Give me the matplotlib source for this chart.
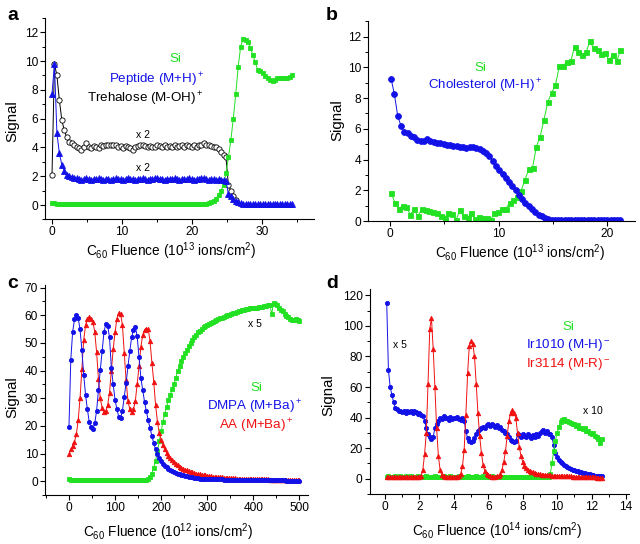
import numpy as np
import matplotlib
matplotlib.use("Agg")
import matplotlib.pyplot as plt
from matplotlib.ticker import MultipleLocator

plt.rcParams['font.family'] = ['Liberation Sans', 'DejaVu Sans']
plt.rcParams['mathtext.default'] = 'regular'

GREEN = '#22e022'
BLUE = '#1212e8'
RED = '#f01010'

# ---------------- panel a (fluence step 0.35 x 10^13) ----------------
a_step = 0.35
a_si = [0.15, 0.12, 0.1, 0.1, 0.09, 0.1, 0.08, 0.09,
        0.1, 0.08, 0.09, 0.08, 0.1, 0.09, 0.08, 0.08,
        0.09, 0.08, 0.08, 0.09, 0.08, 0.08, 0.09, 0.08,
        0.08, 0.09, 0.08, 0.08, 0.08, 0.09, 0.08, 0.08,
        0.09, 0.08, 0.08, 0.08, 0.09, 0.08, 0.08, 0.09,
        0.08, 0.08, 0.08, 0.09, 0.08, 0.08, 0.09, 0.08,
        0.08, 0.09, 0.08, 0.08, 0.09, 0.08, 0.08, 0.08,
        0.09, 0.08, 0.08, 0.09, 0.08, 0.09, 0.09, 0.1,
        0.12, 0.2, 0.3, 0.45, 0.7, 1.0, 1.4, 2.2, 3.3, 4.5,
        6.0, 7.7, 9.6, 11.0, 11.55, 11.45, 11.3, 10.9, 10.4, 9.9,
        9.35, 9.3, 9.2, 8.95, 8.8, 8.65, 8.6, 8.65, 8.85, 8.8,
        8.8, 8.85, 8.8, 8.9, 9.0]
a_peptide = [7.7, 9.8, 5.0, 3.6, 2.8, 2.35, 2.1, 2.0, 1.95, 1.9,
             1.85, 1.8, 1.75, 1.8, 1.85, 1.8, 1.75, 1.8, 1.8, 1.85,
             1.8, 1.75, 1.8, 1.8, 1.75, 1.8, 1.85, 1.8, 1.8, 1.75,
             1.8, 1.85, 1.8, 1.8, 1.75, 1.8, 1.8, 1.85, 1.8, 1.75,
             1.8, 1.8, 1.85, 1.9, 1.8, 1.8, 1.75, 1.8, 1.8, 1.8,
             1.85, 1.8, 1.75, 1.8, 1.8, 1.8, 1.85, 1.8, 1.75, 1.8,
             1.8, 1.85, 1.9, 1.8, 1.75, 1.8, 1.8, 1.75, 1.8, 1.75,
             1.75, 1.7,
             0.75, 0.6, 0.45, 0.3, 0.2, 0.12, 0.08, 0.05, 0.05, 0.05,
             0.05, 0.05, 0.05, 0.05, 0.05, 0.05, 0.05, 0.05, 0.05, 0.05,
             0.05, 0.05, 0.05, 0.05, 0.05, 0.05, 0.05]
a_trehalose = [2.1, 9.8, 9.0, 7.3, 5.9, 5.2, 4.7, 4.35, 4.3, 4.2,
               4.05, 3.95, 3.85, 4.0, 4.3, 4.05, 3.95, 4.1, 4.0, 3.95,
               4.15, 4.1, 4.15, 4.2, 4.15, 4.2, 4.15, 4.0, 4.1, 3.95,
               4.1, 4.0, 3.95, 3.8, 4.0, 4.1, 4.2, 4.15, 4.1, 4.0,
               4.1, 4.0, 4.05, 4.2, 4.1, 4.0, 4.2, 4.05, 4.1, 4.0,
               4.2, 4.05, 4.1, 4.2, 4.05, 4.15, 4.1, 4.05, 4.15, 4.05,
               4.15, 4.2, 4.3, 4.2, 4.15, 4.1, 4.05, 4.0, 3.9, 3.7,
               3.45, 3.3, 1.4, 1.0, 0.65, 0.35]

# ---------------- panel b ----------------
b_chol = [9.25, 8.25, 6.85, 6.2, 5.8, 5.7, 5.55, 5.45, 5.3, 5.2,
          5.2, 5.35, 5.22, 5.15, 5.1, 5.05, 5.0, 4.97, 4.93, 4.9,
          4.85, 4.82, 4.8, 4.76, 4.8, 4.8, 4.75, 4.7, 4.55, 4.4,
          4.2, 3.9, 3.55, 3.3, 3.05, 2.8, 2.55, 2.28, 2.0, 1.72,
          1.45, 1.18, 0.95, 0.75, 0.57, 0.42, 0.3, 0.2, 0.13, 0.09,
          0.06, 0.05, 0.04, 0.04, 0.04, 0.04, 0.04, 0.04, 0.04, 0.04,
          0.04, 0.04, 0.04, 0.04, 0.04, 0.04, 0.04, 0.04, 0.04, 0.04,
          0.04]
b_si = [1.8, 1.2, 0.8, 1.0, 0.9, 0.42, 0.75, 0.32, 0.78, 0.72,
        0.67, 0.6, 0.55, 0.3, 0.22, 0.55, 0.48, 0.08, 0.7, 0.3,
        0.2, 0.55, 0.15, 0.25, 0.2, 0.22, 0.05, 0.52, 0.58, 0.8,
        0.78, 1.2, 1.35, 1.55, 1.97, 2.66, 3.36, 3.47, 4.84, 5.5,
        6.6, 7.76, 8.35, 8.85, 10.1, 10.1, 10.37, 10.4, 11.35, 11.0,
        10.8, 11.0, 11.7, 11.25, 11.1, 10.85, 10.95, 10.45, 10.8, 10.4,
        11.1]
b_start, b_end = 0.1, 21.2

# ---------------- panel c (fluence step 4 x 10^12) ----------------
c_step = 4
c_dmpa = [19.5, 44, 54, 58.5, 60.2, 59, 55, 47.5, 38.5, 31.2,
          26, 21.5, 19.5, 18.8, 21, 25.5, 33, 40.3, 47, 54,
          56.9, 56.3, 52, 41, 35, 29.5, 26, 23.4, 22.8, 25.5,
          30.5, 35.5, 41.5, 47, 52, 54.7, 55.9, 52.5, 45, 37.5,
          33, 28.8, 25.3, 22, 19.3, 16.3, 13.8, 11.5, 9.7, 8.3,
          7.3, 6.3, 5.6, 5.0, 4.5, 4.1, 3.7, 3.3, 3.0, 2.7,
          2.5, 2.3, 2.1, 1.9, 1.8, 1.6, 1.5, 1.4, 1.3, 1.2,
          1.1, 1.0, 1.0, 0.9, 0.9, 0.85, 0.8, 0.8, 0.75, 0.75,
          0.7, 0.7, 0.65, 0.65, 0.6, 0.6, 0.6, 0.55, 0.55, 0.55,
          0.5, 0.5, 0.5, 0.5, 0.45, 0.45, 0.45, 0.45, 0.4, 0.4,
          0.4, 0.4, 0.4, 0.35, 0.35, 0.35, 0.35, 0.35, 0.35, 0.3,
          0.3, 0.3, 0.3, 0.3, 0.3, 0.3, 0.3, 0.3, 0.25, 0.25,
          0.25, 0.25, 0.25, 0.25, 0.25, 0.25]
c_aa = [9.8, 11.5, 12.8, 14.3, 17, 22, 30, 40.5, 51, 56.5,
        58.5, 59.5, 58.8, 57.6, 54, 46.6, 37, 30, 26.5, 25.2,
        25.3, 27.5, 32, 40, 47.8, 53.8, 58.8, 60.8, 60.5, 56.5,
        46.5, 36.5, 29, 26, 25.2, 26, 29, 35, 41.5, 48.5,
        52.8, 54.8, 55, 55, 50.6, 42.8, 36, 27.5, 21.5, 17.5,
        15, 13, 11.5, 10.2, 9.2, 8.3, 7.6, 6.9, 6.3, 5.8,
        5.3, 4.9, 4.5, 4.2, 3.9, 3.6, 3.4, 3.2, 3.0, 2.8,
        2.6, 2.5, 2.3, 2.2, 2.1, 2.0, 1.9, 1.8, 1.7, 1.6,
        1.55, 1.5, 1.45, 1.4, 1.35, 1.3, 1.25, 1.2, 1.15, 1.1,
        1.05, 1.0, 1.0, 0.95, 0.95, 0.9, 0.9, 0.85, 0.85, 0.8,
        0.8, 0.75, 0.75, 0.7, 0.7, 0.7, 0.65, 0.65, 0.65, 0.6,
        0.6, 0.6, 0.55, 0.55, 0.55, 0.5, 0.5, 0.5, 0.5, 0.45,
        0.45, 0.45, 0.45, 0.4, 0.4, 0.4]
c_si = [0.7, 0.6, 0.55, 0.5, 0.5, 0.45, 0.45, 0.4, 0.4, 0.4,
        0.4, 0.35, 0.35, 0.35, 0.35, 0.35, 0.3, 0.3, 0.3, 0.3,
        0.3, 0.3, 0.3, 0.3, 0.3, 0.3, 0.3, 0.3, 0.35, 0.35,
        0.35, 0.35, 0.35, 0.4, 0.4, 0.4, 0.4, 0.45, 0.45, 0.5,
        0.5, 0.55, 0.6,
        0.8, 1.5, 2.8, 4.8, 7.5, 10.8, 14.5, 18, 21.5, 24.5,
        27, 29.3, 31.3, 33.2, 35.2, 37.5, 40, 41.5, 43.5, 45,
        46.3, 47.5, 48.8, 50, 51, 52, 53, 53.8, 54.5, 55.2,
        55.8, 56.2, 56.6, 57, 57.3, 57.6, 58, 58.3, 58.6, 58.9,
        59.2, 59.5, 59.8, 60, 60.2, 60.4, 60.7, 61, 61.2, 61.4,
        61.6, 61.8, 62, 62.2, 62.3, 62.5, 62.6, 62.7, 62.5, 62.8,
        62.9, 63, 63.1, 63.3, 63.5, 63.6, 63.8, 60.5, 64.4, 64.2,
        63.6, 62.8, 62, 61.4, 60.6, 59.8, 59.3, 58.6, 58.2, 58.3,
        58.8, 58.4, 58]

# ---------------- panel d (fluence 0.1 .. 12.6 x 10^14, step 0.1) ----------------
d_start, d_step = 0.1, 0.1
d_ir1010 = [115, 71, 60, 55, 50, 46.5, 45.5, 44, 44.5, 43.5,
            44, 43, 44.5, 43.5, 44, 43, 44, 43.5, 42.5, 43,
            42, 41, 38, 33, 29, 27, 26, 27.5, 33, 36,
            38, 40, 39, 41, 39.5, 40, 38.5, 40.5, 39, 40,
            39.5, 40.5, 39, 38.5, 40, 38, 31, 26.5, 25, 24,
            25, 26.5, 29, 31, 32.5, 33.5, 34, 33, 35, 36,
            34.5, 36, 35, 34, 35, 33.5, 34, 32, 31, 30,
            29, 27, 25.5, 24.5, 24, 24.5, 29, 28.5, 27, 29,
            28, 27, 29, 28, 26.5, 28.5, 27.5, 29.5, 28, 30,
            31, 32, 30, 31, 29.5, 29, 27, 22, 17, 14,
            12, 11, 10, 9.3, 8.6, 7.9, 7, 6.5, 6, 5.6,
            5.2, 4.8, 4.4, 4.1, 3.8, 3.5, 3.3, 3.0, 2.8, 2.5,
            2.3, 2.1, 2.0, 1.8, 1.6, 1.5]
d_ir3114 = [1.0, 1.1, 0.9, 1.0, 1.2, 0.9, 1.0, 1.1, 0.9, 1.0,
            1.0, 1.1, 0.9, 1.0, 1.0, 0.9, 1.1, 1.0, 1.2, 1.4,
            2, 6, 16, 30, 62, 98, 105, 85, 60, 33,
            15, 6, 2.5, 1.5,
            1.1, 1.0, 0.9, 1.0, 1.1, 0.9, 1.0, 1.2, 1.6,
            3, 8, 19, 42, 69, 87, 90, 88, 80, 62,
            43, 28, 17, 9, 5, 3, 2.2,
            1.5, 1.4, 1.3, 1.4, 1.5, 1.8,
            3, 6, 11, 18, 28, 38, 43, 45, 43, 40,
            30, 21, 15, 11, 8.5, 7, 6, 5.2, 4.6, 4.1,
            3.7, 3.4, 3.1, 2.9,
            2.7, 2.6, 2.5, 2.4, 2.3, 2.2, 2.1, 2.0, 1.95, 1.9,
            1.85, 1.8, 1.75, 1.7, 1.65, 1.6, 1.55, 1.5, 1.45, 1.4,
            1.35, 1.3, 1.25, 1.2, 1.15, 1.1, 1.05, 1.0, 0.95, 0.9,
            0.85, 0.8, 0.75, 0.7, 0.65, 0.6]
d_si = [1.2, 1.5, 1.3, 1.1, 1.4, 1.6, 1.2, 1.3, 1.5, 1.2,
        1.4, 1.7, 1.3, 1.2, 1.5, 1.3, 1.4, 1.2, 1.6, 1.3,
        1.2, 1.4, 1.3, 1.5, 1.2, 1.3, 1.4, 1.2, 1.6, 1.3,
        1.4, 1.2, 1.3, 1.5, 1.3, 1.2, 1.4, 1.6, 1.3, 1.2,
        1.4, 1.3, 1.5, 1.2, 1.3, 1.4, 1.2, 1.5, 1.3, 1.4,
        1.2, 1.3, 1.6, 1.4, 1.2, 1.3, 1.5, 1.3, 1.2, 1.4,
        1.3, 1.5, 1.2, 1.3, 1.4, 1.1, 1.3, 1.2, 1.4, 1.3,
        1.2, 1.3, 1.1, 1.2, 1.4, 1.2, 1.3, 1.1, 1.2, 1.3,
        1.1, 1.2, 1.0, 1.2, 1.1, 1.0, 1.2, 1.1, 1.0, 0.9,
        1.1, 1.0, 0.9, 1.0, 1.2,
        3, 10, 18, 25, 30, 34, 37, 38.5, 39, 38,
        37.5, 37, 36.5, 35.5, 36, 34.5, 35, 33.5, 33, 32.5,
        33, 31.5, 31, 30, 29.5, 30, 28, 27, 26, 23.5,
        26]

W, H = 640, 544
fig = plt.figure(figsize=(W / 100, H / 100), dpi=100)


def px_axes(l, t, r, b):
    return fig.add_axes([l / W, 1 - b / H, (r - l) / W, (b - t) / H])


def ftext(x, y, s, **kw):
    kw.setdefault('ha', 'center')
    kw.setdefault('va', 'center')
    fig.text(x / W, 1 - y / H, s, **kw)


def style(ax, xlim, ylim, xmaj, xmin, ymaj, ymin):
    ax.set_xlim(*xlim)
    ax.set_ylim(*ylim)
    for s in ['top', 'right']:
        ax.spines[s].set_visible(False)
    for s in ['left', 'bottom']:
        ax.spines[s].set_linewidth(0.8)
    ax.xaxis.set_major_locator(MultipleLocator(xmaj))
    ax.xaxis.set_minor_locator(MultipleLocator(xmin))
    ax.yaxis.set_major_locator(MultipleLocator(ymaj))
    ax.yaxis.set_minor_locator(MultipleLocator(ymin))
    ax.tick_params(which='major', direction='out', length=3.5, width=0.8,
                   labelsize=8.6, pad=1.5)
    ax.tick_params(which='minor', direction='out', length=2, width=0.7)
    ax.patch.set_alpha(0)


def series(ax, x, y, color, marker, ms, mfc=None, lw=0.7):
    ax.plot(x, y, '-', color=color, lw=lw, marker=marker, ms=ms,
            mfc=mfc if mfc else color, mec=color, mew=0.6)


xlab = 'C$_{60}$ Fluence (10$^{%d}$ ions/cm$^2$)'
LBL = 9.8
LEG = 9.6

# panel a
ax = px_axes(45, 17.8, 313.8, 219.4)
style(ax, (-1, 37.4), (-1, 13), 10, 5, 2, 1)
series(ax, np.arange(len(a_trehalose)) * a_step, a_trehalose, 'black', 'o', 3.8, mfc='white')
series(ax, np.arange(len(a_si)) * a_step, a_si, GREEN, 's', 3.4)
series(ax, np.arange(len(a_peptide)) * a_step, a_peptide, BLUE, '^', 3.8)
ftext(175, 59, 'Si', color=GREEN, fontsize=LEG)
ftext(204, 80, 'Peptide (M+H)$^+$', color=BLUE, fontsize=LEG, ha='right')
ftext(204, 99, 'Trehalose (M-OH)$^+$', color='black', fontsize=LEG, ha='right')
ftext(143, 135, 'x 2', fontsize=7.5)
ftext(143, 168, 'x 2', fontsize=7.5)
ftext(171, 251, xlab % 13, fontsize=LBL)
ftext(12, 121, 'Signal', fontsize=LBL + 1, rotation=90)
ftext(13, 15, 'a', fontsize=14, fontweight='bold')

# panel b
ax = px_axes(368.3, 21.3, 634.6, 221)
style(ax, (-2, 22.5), (0, 13), 10, 5, 2, 1)
series(ax, np.linspace(b_start, b_end, len(b_si)), b_si, GREEN, 's', 3.6)
series(ax, np.linspace(b_start, b_end, len(b_chol)), b_chol, BLUE, 'o', 4.2)
ftext(480, 68, 'Si', color=GREEN, fontsize=LEG)
ftext(485, 86, 'Cholesterol (M-H)$^+$', color=BLUE, fontsize=LEG)
ftext(520, 253, xlab % 13, fontsize=LBL)
ftext(337, 120, 'Signal', fontsize=LBL + 1, rotation=90)
ftext(332, 15, 'b', fontsize=14, fontweight='bold')

# panel c
ax = px_axes(45, 284.9, 308.1, 495.1)
style(ax, (-52, 519), (-5, 71), 100, 50, 10, 5)
series(ax, np.arange(len(c_si)) * c_step, c_si, GREEN, 's', 2.6)
series(ax, np.arange(len(c_aa)) * c_step, c_aa, RED, '^', 3.2)
series(ax, np.arange(len(c_dmpa)) * c_step, c_dmpa, BLUE, 'o', 3.0)
ftext(256, 388, 'Si', color=GREEN, fontsize=LEG)
ftext(255, 407, 'DMPA (M+Ba)$^+$', color=BLUE, fontsize=LEG)
ftext(256, 426, 'AA (M+Ba)$^+$', color=RED, fontsize=LEG)
ftext(255, 324, 'x 5', fontsize=7.5)
ftext(168, 532, xlab % 12, fontsize=LBL)
ftext(12, 397, 'Signal', fontsize=LBL + 1, rotation=90)
ftext(13, 283, 'c', fontsize=14, fontweight='bold')

# panel d
ax = px_axes(369.5, 289.2, 629.4, 494)
style(ax, (-0.9, 14.2), (-10, 124), 2, 1, 20, 10)
xd = d_start + np.arange(len(d_ir1010)) * d_step
series(ax, xd, d_ir1010, BLUE, 'o', 3.0)
series(ax, d_start + np.arange(len(d_si)) * d_step, d_si, GREEN, 's', 2.6)
series(ax, d_start + np.arange(len(d_ir3114)) * d_step, d_ir3114, RED, '^', 3.2)
ftext(568, 327, 'Si', color=GREEN, fontsize=LEG)
ftext(568, 345, 'Ir1010 (M-H)$^-$', color=BLUE, fontsize=LEG)
ftext(568, 364, 'Ir3114 (M-R)$^-$', color=RED, fontsize=LEG)
ftext(400, 345, 'x 5', fontsize=7.5)
ftext(593, 411, 'x 10', fontsize=7.5)
ftext(497, 531, xlab % 14, fontsize=LBL)
ftext(328, 395, 'Signal', fontsize=LBL + 1, rotation=90)
ftext(332, 283, 'd', fontsize=14, fontweight='bold')

fig.savefig('out.png', dpi=100)
